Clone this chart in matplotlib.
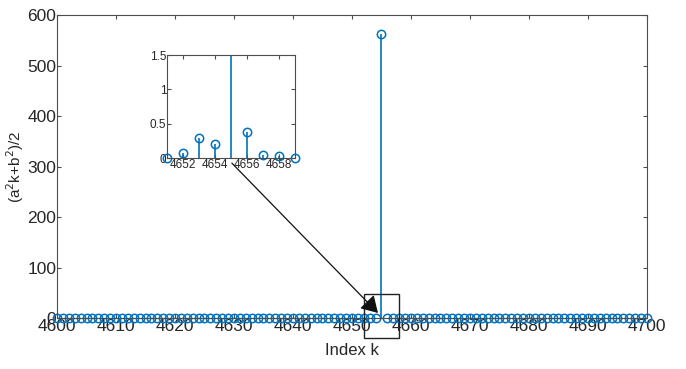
import numpy as np
import matplotlib
matplotlib.use("Agg")
from matplotlib import pyplot as plt
from matplotlib.patches import Rectangle

plt.rcParams['font.family'] = ['Liberation Sans', 'DejaVu Sans']

# index range and the samples around the spike
k_start, k_stop = 4600, 4700
near_k = [4651, 4652, 4653, 4654, 4655, 4656, 4657, 4658, 4659]
near_vals = [0.0, 0.07, 0.29, 0.20, 563.0, 0.38, 0.05, 0.03, 0.0]

x_ticks = [4600, 4610, 4620, 4630, 4640, 4650, 4660, 4670, 4680, 4690, 4700]
y_ticks = [0, 100, 200, 300, 400, 500, 600]
inset_x_ticks = [4652, 4654, 4656, 4658]
inset_y_ticks = [0, 0.5, 1, 1.5]
inset_y_labels = ['0', '0.5', '1', '1.5']

k = np.arange(k_start, k_stop + 1)
vals = np.zeros(k.size)
for kk, v in zip(near_k, near_vals):
    vals[kk - k_start] = v

blue = '#0072BD'
txt = '#262626'
edge = '#4d4d4d'


def stem_plot(ax, x, y, ms, ymax=None):
    ml, sl, bl = ax.stem(x, y, basefmt=' ')
    plt.setp(sl, color=blue, linewidth=1.2)
    ml.set_visible(False)
    # markers drawn separately so the ones on the frame stay whole
    y = np.asarray(y, dtype=float)
    if ymax is not None:
        y = np.where(y > ymax, np.nan, y)
    mk, = ax.plot(x, y, linestyle='none', marker='o', markerfacecolor='none',
                  markeredgecolor=blue, markersize=ms, markeredgewidth=1.1)
    mk.set_clip_on(False)
    return mk


def matlab_axes(ax, size, pad):
    for s in ax.spines.values():
        s.set_color(edge)
        s.set_linewidth(0.8)
    ax.tick_params(direction='in', top=True, right=True, length=3,
                   color=edge, labelcolor=txt, labelsize=size, pad=pad)


fig = plt.figure(figsize=(6.86, 3.69), dpi=100)
ax = fig.add_axes([0.0831, 0.1382, 0.86, 0.821])
stem_plot(ax, k, vals, 6)
ax.set_xlim(k_start, k_stop)
ax.set_ylim(0, 600)
ax.set_xticks(x_ticks)
ax.set_yticks(y_ticks)
matlab_axes(ax, 12.5, 0.5)
ax.set_xlabel('Index k', fontsize=12, color=txt, labelpad=7)
ax.set_ylabel('(a$^2$k+b$^2$)/2', fontsize=11, color=txt, labelpad=1)

# zoom box around the spike and the arrow from the inset
ax.add_patch(Rectangle((4652, -40), 6, 88, fill=False, edgecolor='#222222',
                       linewidth=1.0, clip_on=False, zorder=5))
ax.annotate('', xy=(4654.4, 10), xycoords='data',
            xytext=(0.338, 0.558), textcoords='figure fraction',
            arrowprops=dict(arrowstyle='-|>,head_length=0.5,head_width=0.3',
                            color='#111111', lw=0.9,
                            mutation_scale=20, shrinkA=0, shrinkB=0),
            annotation_clip=False, zorder=6)

ins = fig.add_axes([0.2434, 0.5718, 0.1866, 0.279])
stem_plot(ins, near_k, near_vals, 6, ymax=1.5)
ins.set_xlim(near_k[0], near_k[-1])
ins.set_ylim(0, 1.5)
ins.set_xticks(inset_x_ticks)
ins.set_yticks(inset_y_ticks)
ins.set_yticklabels(inset_y_labels)
matlab_axes(ins, 8.5, 0.5)

fig.savefig('out.png', dpi=100)
